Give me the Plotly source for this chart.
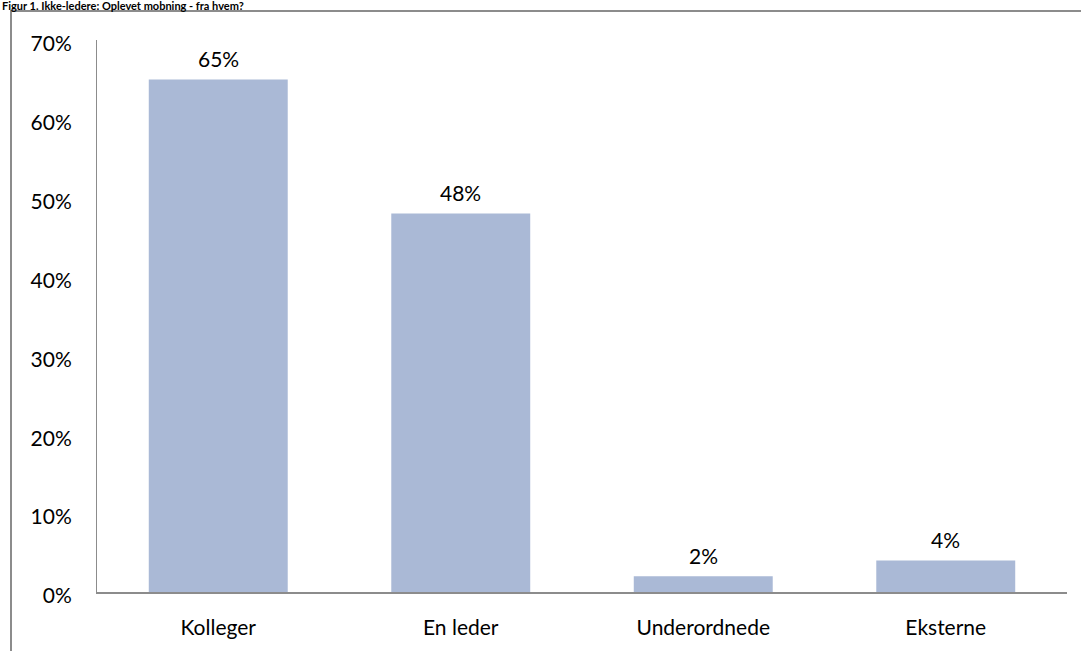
import plotly.graph_objects as go

# Ikke-ledere: hvem har de oplevet mobning fra?
categories = ["Kolleger", "En leder", "Underordnede", "Eksterne"]
shares = [0.65, 0.48, 0.02, 0.04]
title_text = "Figur 1. Ikke-ledere: Oplevet mobning - fra hvem?"

W, H = 1081, 651
ML, MR, MT, MB = 97, 14, 40, 59
pw, ph = W - ML - MR, H - MT - MB

def px_x(px):
    return (px - ML) / pw

def px_y(py):
    return 1 - (py - MT) / ph

font_family = "Lato, 'Open Sans', sans-serif"
axis_grey = "#8c8c8c"
label_size = 21

fig = go.Figure(
    go.Bar(
        x=categories,
        y=shares,
        marker=dict(color="#AAB9D6", line=dict(width=0)),
        width=0.573,
    )
)

# value labels above each bar
value_labels = [
    dict(text=f"{v:.0%}", x=c, y=v, xref="x", yref="y",
         xanchor="center", yanchor="bottom", yshift=6, showarrow=False,
         font=dict(family=font_family, size=label_size, color="#000000"))
    for c, v in zip(categories, shares)
]

fig.update_layout(
    width=W,
    height=H,
    margin=dict(l=ML, r=MR, t=MT, b=MB),
    paper_bgcolor="white",
    plot_bgcolor="white",
    showlegend=False,
    font=dict(family=font_family, size=label_size, color="#000000"),
    xaxis=dict(
        showline=True,
        linecolor=axis_grey,
        linewidth=2,
        ticks="",
        showgrid=False,
        ticklabelstandoff=16,
        tickfont=dict(size=label_size),
        range=[-0.5, 3.5],
    ),
    yaxis=dict(
        range=[0, 0.7],
        dtick=0.1,
        tickformat=".0%",
        showline=True,
        linecolor=axis_grey,
        linewidth=1,
        ticks="",
        showgrid=False,
        zeroline=False,
        ticklabelstandoff=20,
        ticklabelshift=4,
        tickfont=dict(size=label_size),
    ),
    shapes=[
        # frame around the chart (left and top edges)
        dict(type="line", xref="paper", yref="paper",
             x0=px_x(11), x1=px_x(11), y0=px_y(11), y1=px_y(H + 20),
             line=dict(color=axis_grey, width=2)),
        dict(type="line", xref="paper", yref="paper",
             x0=px_x(10), x1=px_x(W + 20), y0=px_y(11), y1=px_y(11),
             line=dict(color=axis_grey, width=2)),
    ],
    annotations=value_labels + [
        dict(text=f"<b>{title_text}</b>", xref="paper", yref="paper",
             x=px_x(0), y=px_y(5), xanchor="left", yanchor="middle",
             showarrow=False, font=dict(family=font_family, size=11, color="#000000")),
    ],
)

fig.write_html("out.html")
